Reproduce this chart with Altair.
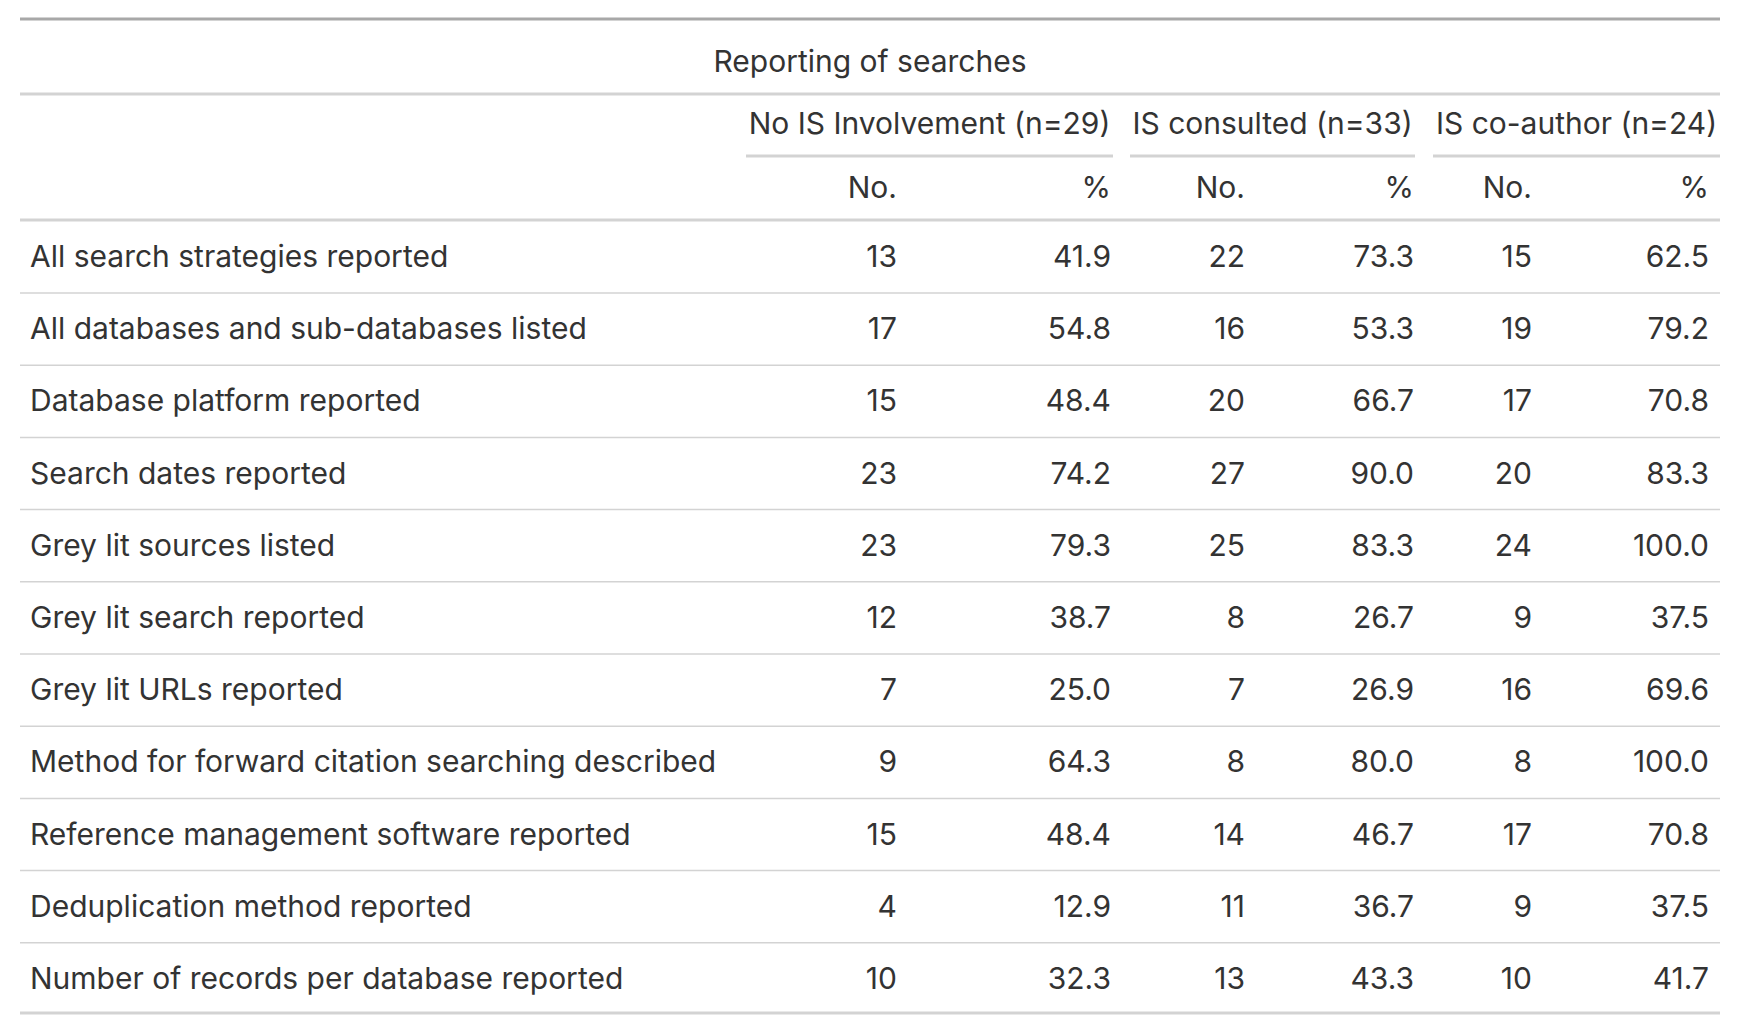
import altair as alt
import pandas as pd

title = "Reporting of searches"
groups = ["No IS Involvement (n=29)", "IS consulted (n=33)", "IS co-author (n=24)"]
labels = [
    "All search strategies reported",
    "All databases and sub-databases listed",
    "Database platform reported",
    "Search dates reported",
    "Grey lit sources listed",
    "Grey lit search reported",
    "Grey lit URLs reported",
    "Method for forward citation searching described",
    "Reference management software reported",
    "Deduplication method reported",
    "Number of records per database reported",
]
no_is_n = [13, 17, 15, 23, 23, 12, 7, 9, 15, 4, 10]
no_is_pct = [41.9, 54.8, 48.4, 74.2, 79.3, 38.7, 25.0, 64.3, 48.4, 12.9, 32.3]
cons_n = [22, 16, 20, 27, 25, 8, 7, 8, 14, 11, 13]
cons_pct = [73.3, 53.3, 66.7, 90.0, 83.3, 26.7, 26.9, 80.0, 46.7, 36.7, 43.3]
coa_n = [15, 19, 17, 20, 24, 9, 16, 8, 17, 9, 10]
coa_pct = [62.5, 79.2, 70.8, 83.3, 100.0, 37.5, 69.6, 100.0, 70.8, 37.5, 41.7]

W, H = 1724, 1018
FONT = "Inter"
FS = 30
C = "#333333"
col_x = [897, 1111, 1245, 1414, 1532, 1709]
row_y0, row_h = 258, 72.2
sx = alt.Scale(domain=[8, 8 + W], nice=False, zero=False)
sy = alt.Scale(domain=[8, 8 + H], nice=False, zero=False, reverse=True)

cells = []
series = [no_is_n, no_is_pct, cons_n, cons_pct, coa_n, coa_pct]
for j, vals in enumerate(series):
    for i, v in enumerate(vals):
        t = f"{v:.1f}" if j % 2 else str(v)
        cells.append({"x": col_x[j], "y": row_y0 + i * row_h, "t": t})
for j in range(6):
    cells.append({"x": col_x[j], "y": 189, "t": "%" if j % 2 else "No."})
cells = pd.DataFrame(cells)

lab = pd.DataFrame({"t": labels, "x": 30, "y": [row_y0 + i * row_h for i in range(len(labels))]})

spans = [(746, 1113), (1130, 1415), (1433, 1720)]
heads = pd.DataFrame(
    [{"x": (a + b) / 2, "y": 125, "t": g} for g, (a, b) in zip(groups, spans)]
    + [{"x": 870, "y": 63, "t": title}]
)

rules = [{"x": 20, "x2": 1720, "y": 19, "w": 3, "c": "#a8a8a8"},
         {"x": 20, "x2": 1720, "y": 94, "w": 3, "c": "#d3d3d3"},
         {"x": 20, "x2": 1720, "y": 220, "w": 3, "c": "#d3d3d3"},
         {"x": 20, "x2": 1720, "y": 1013, "w": 3, "c": "#d3d3d3"}]
rules += [{"x": a, "x2": b, "y": 156, "w": 3, "c": "#d3d3d3"} for a, b in spans]
rules += [{"x": 20, "x2": 1720, "y": 293 + i * row_h, "w": 1.5, "c": "#d3d3d3"} for i in range(len(labels) - 1)]
rules = pd.DataFrame(rules)

rule_layer = alt.Chart(rules).mark_rule().encode(
    x=alt.X("x:Q", scale=sx, axis=None), x2="x2", y=alt.Y("y:Q", scale=sy, axis=None),
    strokeWidth=alt.StrokeWidth("w:Q", scale=None),
    color=alt.Color("c:N", scale=None),
)
num_layer = alt.Chart(cells).mark_text(align="right", baseline="middle", font=FONT, fontSize=FS, color=C).encode(
    x=alt.X("x:Q", scale=sx, axis=None), y=alt.Y("y:Q", scale=sy, axis=None), text="t:N"
)
lab_layer = alt.Chart(lab).mark_text(align="left", baseline="middle", font=FONT, fontSize=FS, color=C).encode(
    x=alt.X("x:Q", scale=sx, axis=None), y=alt.Y("y:Q", scale=sy, axis=None), text="t:N"
)
head_layer = alt.Chart(heads).mark_text(align="center", baseline="middle", font=FONT, fontSize=FS, color=C).encode(
    x=alt.X("x:Q", scale=sx, axis=None), y=alt.Y("y:Q", scale=sy, axis=None), text="t:N"
)

chart = (rule_layer + num_layer + lab_layer + head_layer).properties(
    width=W, height=H, autosize=alt.AutoSizeParams(type="none"), padding=0
).configure_view(stroke=None)

chart.save("out.html", embed_options={"renderer": "svg", "actions": False})
